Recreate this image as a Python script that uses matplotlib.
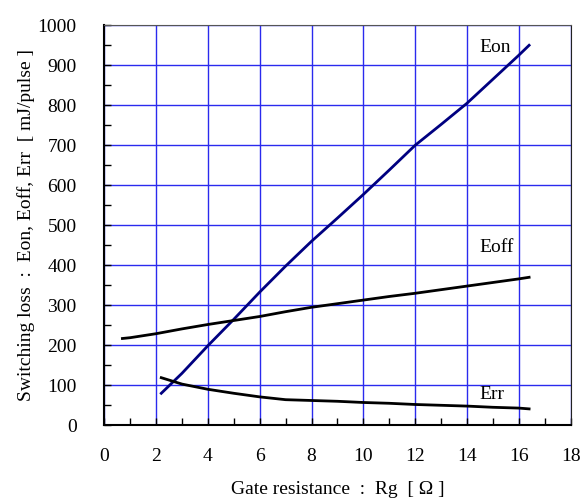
import numpy as np
import matplotlib.pyplot as plt
from matplotlib.ticker import MultipleLocator

plt.rcParams['font.family'] = ['Liberation Serif', 'DejaVu Serif']

rg_eon = [2.2, 3, 4, 5, 6, 7, 8, 9, 10, 11, 12, 13, 14, 15, 16, 16.4]
eon = [80, 130, 199, 265, 333, 398, 460, 518, 577, 638, 700, 752, 805, 865, 925, 950]

rg_eoff = [0.7, 1, 2, 3, 4, 5, 6, 7, 8, 9, 10, 11, 12, 13, 14, 15, 16, 16.4]
eoff = [217, 219, 229, 241, 252, 262, 272, 284, 295, 304, 313, 322, 330, 339, 348, 357, 366, 370]

rg_err = [2.2, 3, 4, 5, 6, 7, 8, 9, 10, 11, 12, 13, 14, 15, 16, 16.4]
err = [119, 103, 90, 80, 71, 64, 62, 60, 57, 55, 52, 50, 48, 45, 43, 41]

fig = plt.figure(figsize=[5.81, 5.03], dpi=100)
ax = fig.add_axes([0.1795, 0.1545, 0.8025, 0.7952])

ax.plot(rg_eon, eon, color='#000080', lw=2)
ax.plot(rg_eoff, eoff, color='black', lw=2)
ax.plot(rg_err, err, color='black', lw=2)

ax.text(14.5, 945, 'Eon', fontsize=14, va='center')
ax.text(14.5, 444, 'Eoff', fontsize=14, va='center')
ax.text(14.5, 76, 'Err', fontsize=14, va='center')

ax.set_xlim(0, 18)
ax.set_ylim(0, 1000)
ax.xaxis.set_major_locator(MultipleLocator(2))
ax.xaxis.set_minor_locator(MultipleLocator(1))
ax.yaxis.set_major_locator(MultipleLocator(100))
ax.yaxis.set_minor_locator(MultipleLocator(50))
ax.tick_params(which='both', direction='in', length=5, width=1, labelsize=14)
ax.tick_params(axis='x', which='major', pad=16)
ax.tick_params(axis='y', which='major', pad=20)

ax.grid(True, which='major', color='#2a2aee', lw=1)
ax.set_axisbelow(True)
for s in ['left', 'bottom']:
    ax.spines[s].set_linewidth(1.5)
    ax.spines[s].set_color('black')
ax.spines['top'].set_color('#555555')
ax.spines['right'].set_color('#222222')

ax.set_xlabel('Gate resistance  :  Rg  [ \u03a9 ]', fontsize=14, labelpad=12)
ax.set_ylabel('Switching loss  :  Eon, Eoff, Err  [ mJ/pulse ]', fontsize=14, labelpad=2)

fig.savefig('out.png')
